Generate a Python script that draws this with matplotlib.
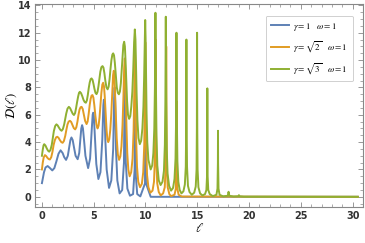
# Recriação do gráfico D(l) para três valores de gamma
import matplotlib.pyplot as plt
from matplotlib.ticker import MultipleLocator

plt.rcParams['mathtext.fontset'] = 'stix'

# =-=-=-=-=-=-=-=-=-=-=-=-=-=-=-=-=-=-=-=-=-=-=-=-=-=-=-=-=-=-=-=-=-=-=-=-
# dados (pontos da curva, estimados a olho)
# =-=-=-=-=-=-=-=-=-=-=-=-=-=-=-=-=-=-=-=-=-=-=-=-=-=-=-=-=-=-=-=-=-=-=-=-
# gamma = 1
l_azul = [0, 0.1, 0.2, 0.35, 0.55, 0.75, 1.0, 1.2, 1.4, 1.6, 1.8, 2.0, 2.15,
          2.33, 2.5, 2.65, 2.75, 2.85, 2.97, 3.1, 3.25, 3.45, 3.6, 3.72, 3.8,
          3.88, 3.96, 4.06, 4.2, 4.46, 4.65, 4.8, 4.9, 4.95, 5.01, 5.1, 5.25,
          5.45, 5.65, 5.83, 5.93, 5.98, 6.03, 6.12, 6.25, 6.48, 6.7, 6.88,
          6.97, 7.02, 7.07, 7.15, 7.28, 7.5, 7.75, 7.92, 7.98, 8.01, 8.04,
          8.1, 8.25, 8.5, 8.8, 8.95, 8.99, 9.01, 9.03, 9.07, 9.2, 9.5, 9.96,
          10.0, 10.04, 10.5, 30.5]
d_azul = [1.0, 1.4, 1.8, 2.15, 2.25, 2.12, 1.93, 2.1, 2.6, 3.15, 3.4, 3.2,
          2.9, 2.7, 3.0, 3.7, 4.15, 4.34, 4.15, 3.6, 3.0, 2.75, 3.2, 4.3,
          5.0, 5.24, 5.0, 4.2, 3.0, 2.1, 2.8, 4.8, 6.0, 6.15, 5.9, 4.6, 2.4,
          1.3, 1.8, 4.2, 6.7, 7.1, 6.6, 4.2, 2.0, 0.65, 1.2, 3.5,
          7.2, 8.0, 7.0, 3.5, 1.2, 0.25, 0.5, 2.5, 8.0, 8.8, 7.5,
          2.5, 0.6, 0.08, 0.2, 2.0, 8.0, 9.0, 7.0, 1.5, 0.2, 0.03, 1.0,
          7.0, 1.0, 0.0, 0.0]

# gamma = raiz(2)
l_laranja = [0, 0.08, 0.17, 0.29, 0.41, 0.53, 0.65, 0.77, 0.9, 1.02, 1.13,
             1.25, 1.37, 1.48, 1.6, 1.73, 1.87, 2.0, 2.12, 2.25, 2.36, 2.47,
             2.58, 2.7, 2.82, 2.95, 3.08, 3.21, 3.32, 3.43, 3.53, 3.63, 3.73,
             3.83, 3.94, 4.05, 4.17, 4.31, 4.41, 4.51, 4.61, 4.7, 4.79, 4.88,
             4.97, 5.06, 5.15, 5.26, 5.37, 5.47, 5.56, 5.65, 5.74, 5.83,
             5.91, 5.99, 6.06, 6.14, 6.24, 6.32, 6.4, 6.5, 6.6, 6.7, 6.79,
             6.87, 6.94, 7.0, 7.06, 7.13, 7.22, 7.33, 7.45, 7.57, 7.68, 7.78,
             7.87, 7.94, 8.0, 8.05, 8.1, 8.16, 8.24, 8.34, 8.47, 8.62, 8.75,
             8.85, 8.92, 8.96, 8.98, 9.01, 9.05, 9.1, 9.18, 9.3, 9.47, 9.65,
             9.78, 9.88, 9.94, 9.965, 9.98, 9.995, 10.02, 10.07, 10.15,
             10.28, 10.47, 10.68, 10.82, 10.91, 10.955, 10.97, 10.98, 10.99,
             11.005, 11.05, 11.13, 11.28, 11.47, 11.7, 11.86, 11.94, 11.975,
             11.99, 12.0, 12.01, 12.025, 12.06, 12.14, 12.3, 12.47, 12.8,
             12.93, 12.98, 13.0, 13.02, 13.07, 13.2, 13.5, 30.5]
d_laranja = [2.0, 2.5, 2.88, 3.05, 2.98, 2.85, 2.76, 2.73, 2.9, 3.3, 3.8,
             4.15, 4.35, 4.39, 4.32, 4.15, 4.0, 3.95, 4.08, 4.45, 4.9, 5.3,
             5.5, 5.56, 5.48, 5.25, 5.02, 4.93, 5.08, 5.5, 6.0, 6.38, 6.55,
             6.58, 6.42, 6.0, 5.55, 5.32, 5.5, 6.05, 6.7, 7.15, 7.4, 7.44,
             7.25, 6.7, 6.0, 5.3, 5.0, 5.2, 5.8, 6.7, 7.6, 8.2,
             8.34, 8.1, 7.4, 6.3, 4.9, 4.2, 4.0, 4.2, 4.9, 6.1, 7.6,
             8.9, 9.22, 8.8, 7.6, 6.0, 4.3, 3.1, 2.7, 2.95, 3.7, 5.2,
             7.3, 9.4, 10.12, 9.3, 7.5, 5.2, 3.2, 2.0, 1.5, 1.8, 2.8,
             4.8, 7.8, 10.0, 10.9, 9.8, 7.0, 4.2, 2.2, 1.1, 0.7, 0.95,
             1.8, 3.8, 7.0, 10.0, 11.3, 10.0, 7.0, 3.6, 1.6,
             0.7, 0.3, 0.45, 1.1, 2.8, 6.0, 9.5, 11.5, 9.5,
             6.0, 2.6, 1.0, 0.35, 0.1, 0.25, 0.7, 2.2, 6.0,
             9.0, 11.0, 9.0, 6.0, 2.2, 0.7, 0.2, 0.05, 0.15,
             0.6, 3.0, 7.0, 3.0, 0.6, 0.15, 0.02, 0.0]

# gamma = raiz(3)
l_verde = [0, 0.08, 0.15, 0.22, 0.34, 0.46, 0.58, 0.7, 0.82, 0.95, 1.05, 1.15,
           1.28, 1.4, 1.52, 1.65, 1.78, 1.9, 2.02, 2.15, 2.25, 2.35, 2.47,
           2.6, 2.72, 2.85, 2.97, 3.09, 3.2, 3.3, 3.4, 3.5, 3.58, 3.66, 3.78,
           3.9, 4.02, 4.13, 4.24, 4.34, 4.43, 4.52, 4.61, 4.7, 4.79, 4.89,
           4.98, 5.07, 5.17, 5.27, 5.37, 5.46, 5.55, 5.64, 5.74, 5.85, 5.94,
           6.03, 6.12, 6.23, 6.34, 6.44, 6.53, 6.62, 6.71, 6.8, 6.88, 6.96,
           7.04, 7.13, 7.23, 7.33, 7.43, 7.53, 7.62, 7.7, 7.78, 7.86, 7.94,
           8.01, 8.07, 8.14, 8.22, 8.31, 8.42, 8.53, 8.63, 8.73, 8.82, 8.9,
           8.97, 9.03, 9.08, 9.14, 9.22, 9.32, 9.45, 9.58, 9.7, 9.8, 9.87,
           9.93, 9.97, 10.01, 10.05, 10.1, 10.17, 10.28, 10.5, 10.65, 10.76,
           10.85, 10.91, 10.94, 10.96, 10.98, 11.01, 11.06, 11.14, 11.28,
           11.46, 11.64, 11.78, 11.87, 11.92, 11.945, 11.96, 11.975, 12.0,
           12.05, 12.13, 12.28, 12.47, 12.66, 12.8, 12.9, 12.95, 12.975,
           12.99, 13.005, 13.03, 13.08, 13.17, 13.3, 13.47, 13.66, 13.8,
           13.89, 13.925, 13.94, 13.95, 13.96, 13.975, 14.01, 14.1, 14.25,
           14.47, 14.7, 14.85, 14.93, 14.96, 14.972, 14.98, 14.988, 15.0,
           15.03, 15.11, 15.27, 15.5, 15.75, 15.88, 15.94, 15.96, 15.97,
           15.98, 16.0, 16.06, 16.2, 16.5, 16.85, 16.95, 16.99, 17.0, 17.01,
           17.05, 17.15, 17.5, 17.95, 18.02, 18.09, 18.5, 18.97, 19.02,
           19.07, 19.5, 30.5]
d_verde = [3.0, 3.45, 3.75, 3.85, 3.75, 3.55, 3.38, 3.3, 3.42, 3.8, 4.3, 4.8,
           5.18, 5.3, 5.22, 5.05, 4.9, 4.83, 4.95, 5.3, 5.7, 6.1, 6.45,
           6.58, 6.48, 6.28, 6.08, 5.98, 6.12, 6.5, 6.95, 7.35, 7.6, 7.68, 7.58,
           7.35, 7.08, 6.93, 6.88, 7.05, 7.45, 7.95, 8.35, 8.6, 8.66, 8.55,
           8.25, 7.9, 7.6, 7.51, 7.68, 8.1, 8.65, 9.15, 9.48, 9.56, 9.45,
           9.05, 8.5, 8.0, 7.86, 8.05, 8.6, 9.35, 10.0, 10.4, 10.49, 10.35,
           9.8, 8.9, 8.0, 7.6, 7.5, 7.7, 8.3, 9.2, 10.2, 11.1, 11.34,
           11.0, 10.0, 8.5, 7.0, 6.0, 5.7, 5.9, 6.6, 7.7, 9.4, 11.3,
           12.24, 11.5, 9.8, 7.6, 5.6, 4.3, 3.85, 4.1, 5.0, 6.6, 8.8,
           11.5, 12.93, 11.6, 9.0, 6.2, 4.0, 2.7, 2.0, 2.3, 3.2,
           5.0, 8.0, 11.0, 13.46, 11.0, 8.0, 4.5, 2.3, 1.2,
           0.86, 1.1, 1.9, 3.8, 7.0, 10.5, 13.17, 10.5, 7.0,
           3.5, 1.7, 0.8, 0.45, 0.65, 1.3, 2.8, 5.5, 9.0,
           12.0, 9.0, 5.5, 2.6, 1.1, 0.5, 0.25, 0.4, 0.9,
           2.2, 5.0, 8.5, 11.5, 8.5, 5.0, 2.2, 0.8, 0.35,
           0.15, 0.3, 0.75, 2.0, 5.0, 8.5, 12.0, 8.5, 5.0,
           2.0, 0.7, 0.25, 0.1, 0.2, 0.5, 1.5, 4.0, 7.93,
           4.0, 1.5, 0.5, 0.2, 0.05, 0.15, 0.6, 2.5, 4.83, 2.5,
           0.6, 0.15, 0.03, 0.08, 0.37, 0.08, 0.02, 0.04, 0.12,
           0.04, 0.01, 0.0]

rotulos = [r'$\gamma=1\quad\omega=1$',
           r'$\gamma=\sqrt{2}\quad\omega=1$',
           r'$\gamma=\sqrt{3}\quad\omega=1$']
cores = ['#5E81B5', '#E19C24', '#8FB032']

# =-=-=-=-=-=-=-=-=-=-=-=-=-=-=-=-=-=-=-=-=-=-=-=-=-=-=-=-=-=-=-=-=-=-=-=-
# gráfico
# =-=-=-=-=-=-=-=-=-=-=-=-=-=-=-=-=-=-=-=-=-=-=-=-=-=-=-=-=-=-=-=-=-=-=-=-
fig = plt.figure(figsize=(3.65, 2.43), dpi=100)
ax = fig.add_axes([0.097, 0.149, 0.8975, 0.8345])

ax.plot(l_azul, d_azul, color=cores[0], lw=1.4, label=rotulos[0])
ax.plot(l_laranja, d_laranja, color=cores[1], lw=1.4, label=rotulos[1])
ax.plot(l_verde, d_verde, color=cores[2], lw=1.4, label=rotulos[2])

ax.set_xlim(-0.63, 31.0)
ax.set_ylim(-0.73, 14.1)
ax.xaxis.set_major_locator(MultipleLocator(5))
ax.xaxis.set_minor_locator(MultipleLocator(1))
ax.yaxis.set_major_locator(MultipleLocator(2))
ax.yaxis.set_minor_locator(MultipleLocator(0.5))
ax.tick_params(which='both', direction='in', top=True, right=True,
               color='#888888', labelsize=7, pad=3)
ax.tick_params(which='major', length=3.5, width=0.6)
ax.tick_params(which='minor', length=2, width=0.5)
for t in ax.get_xticklabels() + ax.get_yticklabels():
    t.set_fontweight('bold')
    t.set_color('#333333')
for s in ax.spines.values():
    s.set_color('#888888')
    s.set_linewidth(0.8)

ax.set_xlabel(r'$\ell$', fontsize=9, labelpad=1)
ax.set_ylabel(r'$\mathcal{D}(\ell)$', fontsize=9)
ax.yaxis.set_label_coords(-0.05, 0.5)

leg = ax.legend(loc='upper right', fontsize=6.5, frameon=True, fancybox=True,
                handlelength=2.0, borderpad=0.55, labelspacing=0.75,
                handletextpad=0.5, bbox_to_anchor=(0.982, 0.965))
leg.get_frame().set_edgecolor('#bbbbbb')
leg.get_frame().set_linewidth(0.6)

fig.savefig('out.png', dpi=100)
